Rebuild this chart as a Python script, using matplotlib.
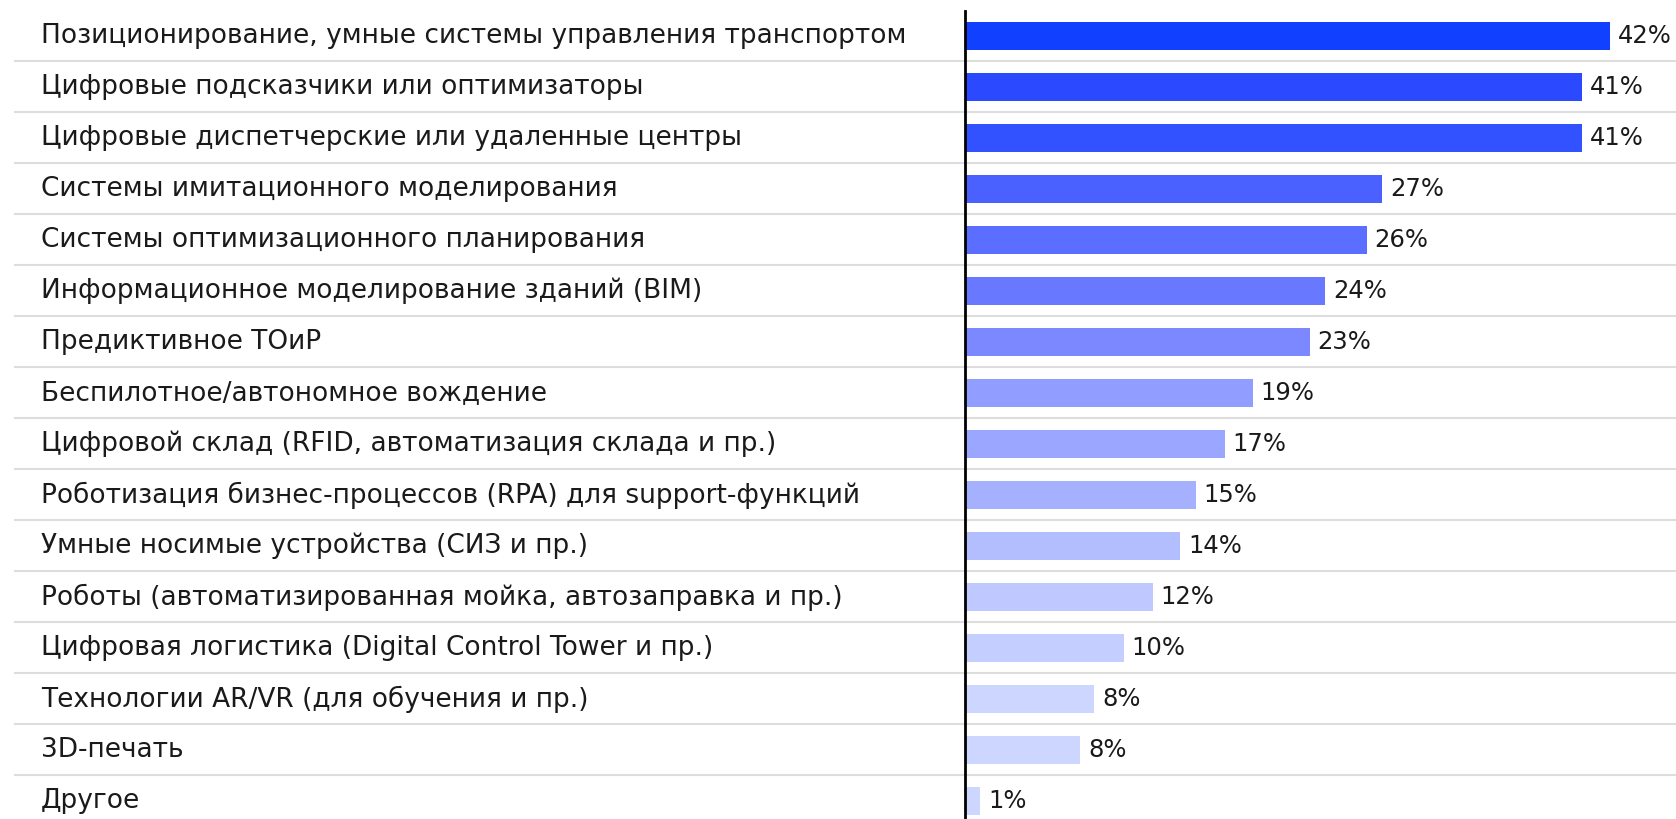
import matplotlib
matplotlib.use("Agg")
import matplotlib.pyplot as plt
import matplotlib.transforms as mtransforms

categories = [
    "Позиционирование, умные системы управления транспортом",
    "Цифровые подсказчики или оптимизаторы",
    "Цифровые диспетчерские или удаленные центры",
    "Системы имитационного моделирования",
    "Системы оптимизационного планирования",
    "Информационное моделирование зданий (BIM)",
    "Предиктивное ТОиР",
    "Беспилотное/автономное вождение",
    "Цифровой склад (RFID, автоматизация склада и пр.)",
    "Роботизация бизнес-процессов (RPA) для support-функций",
    "Умные носимые устройства (СИЗ и пр.)",
    "Роботы (автоматизированная мойка, автозаправка и пр.)",
    "Цифровая логистика (Digital Control Tower и пр.)",
    "Технологии AR/VR (для обучения и пр.)",
    "3D-печать",
    "Другое",
]
values = [41.9, 40.1, 40.1, 27.1, 26.1, 23.4, 22.4, 18.7, 16.9, 15.0, 14.0, 12.2, 10.3, 8.4, 7.5, 1.0]
value_labels = ["42%", "41%", "41%", "27%", "26%", "24%", "23%", "19%", "17%", "15%",
                "14%", "12%", "10%", "8%", "8%", "1%"]

bar_colors = ["#1140FF", "#2B49FF", "#3352FF", "#4A60FF", "#5C6EFF", "#6878FF", "#7B88FF",
              "#919DFF", "#9BA7FF", "#A5B1FF", "#B3BEFF", "#BFC9FF", "#C5CFFF", "#CCD6FF",
              "#CCD6FF", "#CCD6FF"]

W, H = 1676, 819
fig = plt.figure(figsize=(W / 100, H / 100), dpi=100)
ax = fig.add_axes([965 / W, 0, 1 - 965 / W, 1 - 11 / H])

ys = list(range(len(categories)))
ax.barh(ys, values, height=0.55, color=bar_colors, zorder=2)
ax.set_xlim(0, 46.2)
ax.set_ylim((H - 36) / 51, (11 - 36) / 51)

for s in ["top", "right", "bottom"]:
    ax.spines[s].set_visible(False)
ax.spines["left"].set_linewidth(2)
ax.spines["left"].set_color("black")
ax.spines["left"].set_zorder(3)
ax.set_xticks([])
ax.set_yticks([])

# category labels sit in figure x, row y
trans = mtransforms.blended_transform_factory(fig.transFigure, ax.transData)
for i, (cat, v, lab) in enumerate(zip(categories, values, value_labels)):
    ax.text(41 / W, i, cat, transform=trans, ha="left", va="center",
            fontsize=19, color="#1a1a1a")
    ax.text(v + 0.5, i, lab, ha="left", va="center", fontsize=17.5, color="#1a1a1a")
    if i < len(categories) - 1:
        ax.plot([15 / W, 1], [i + 0.5, i + 0.5], transform=trans, color="#dddddd",
                linewidth=1.5, clip_on=False, zorder=1)

fig.savefig("out.png", dpi=100)
